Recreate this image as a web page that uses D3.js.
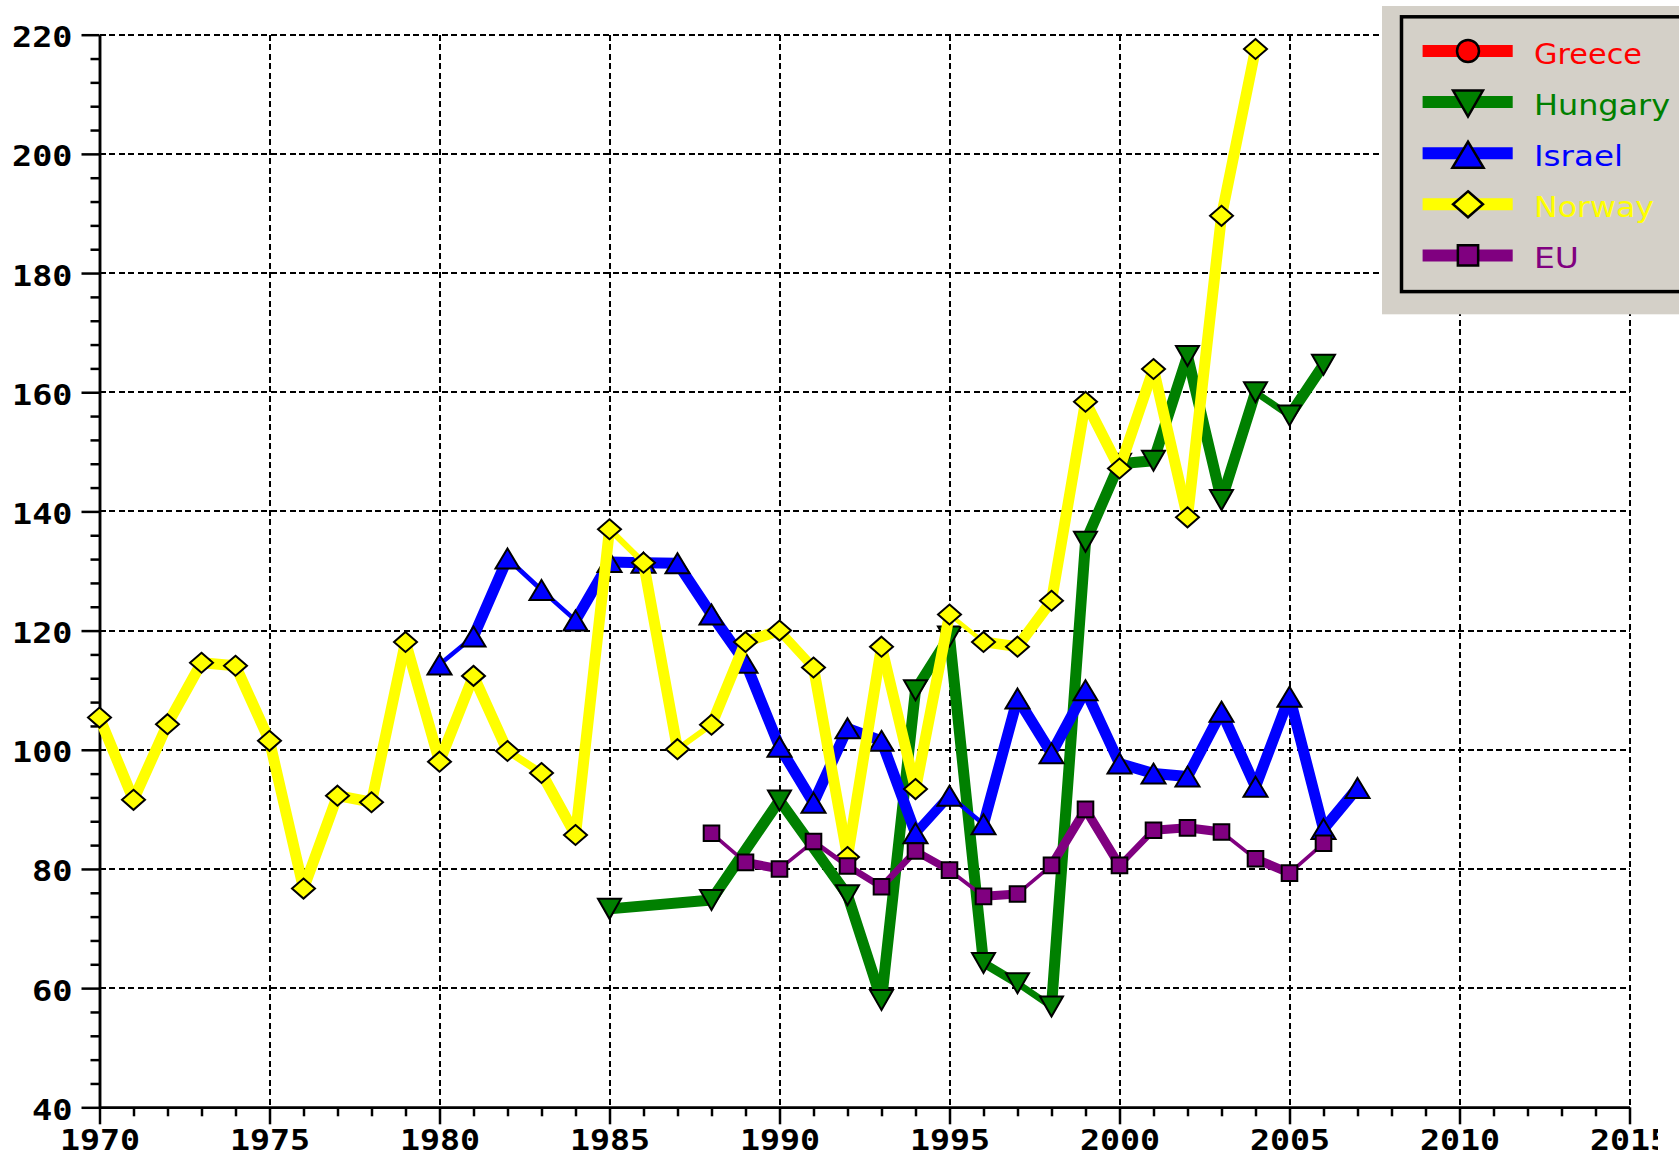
<!DOCTYPE html>
<html><head><meta charset="utf-8">
<script src="https://cdn.jsdelivr.net/npm/d3@7"></script>
<style>html,body{margin:0;padding:0;background:#fff;overflow:hidden}</style>
</head><body>
<svg id="chart" width="1679" height="1157" xmlns="http://www.w3.org/2000/svg"></svg>
<script>
// ---------------- data ----------------
const seriesNames  = ["Greece", "Hungary", "Israel", "Norway", "EU"];
const seriesColors = ["#ff0000", "#008000", "#0000ff", "#ffff00", "#800080"];
const seriesSymbols = ["circle", "triangleDown", "triangleUp", "diamond", "square"];

const greeceYears  = [];
const greeceValues = [];

const hungaryYears  = [1985, 1988, 1990, 1992, 1993, 1994, 1995, 1996, 1997, 1998, 1999, 2000, 2001, 2002, 2003, 2004, 2005, 2006];
const hungaryValues = [73.3, 74.8, 91.5, 75.6, 58.0, 110.0, 119.0, 64.2, 60.8, 56.9, 134.9, 148.0, 148.5, 166.1, 141.9, 160.0, 156.1, 164.6];

const israelYears  = [1980, 1981, 1982, 1983, 1984, 1985, 1986, 1987, 1988, 1989, 1990, 1991, 1992, 1993, 1994, 1995, 1996, 1997, 1998, 1999, 2000, 2001, 2002, 2003, 2004, 2005, 2006, 2007];
const israelValues = [114.3, 119.0, 132.1, 126.8, 121.7, 131.5, 131.4, 131.3, 122.7, 114.6, 100.5, 91.1, 103.6, 101.5, 86.0, 92.3, 87.5, 108.6, 99.4, 110.0, 97.7, 96.0, 95.5, 106.4, 93.8, 108.9, 86.7, 93.6];

const norwayYears  = [1970, 1971, 1972, 1973, 1974, 1975, 1976, 1977, 1978, 1979, 1980, 1981, 1982, 1983, 1984, 1985, 1986, 1987, 1988, 1989, 1990, 1991, 1992, 1993, 1994, 1995, 1996, 1997, 1998, 1999, 2000, 2001, 2002, 2003, 2004];
const norwayValues = [105.4, 91.6, 104.3, 114.6, 114.1, 101.5, 76.7, 92.3, 91.2, 118.1, 98.0, 112.4, 99.8, 96.1, 85.7, 137.0, 131.4, 100.1, 104.2, 118.1, 120.0, 113.8, 82.0, 117.3, 93.4, 122.7, 118.1, 117.3, 125.0, 158.4, 147.2, 163.9, 139.0, 189.6, 217.6];

const euYears  = [1988, 1989, 1990, 1991, 1992, 1993, 1994, 1995, 1996, 1997, 1998, 1999, 2000, 2001, 2002, 2003, 2004, 2005, 2006];
const euValues = [86.0, 81.1, 80.0, 84.6, 80.5, 77.0, 83.0, 79.8, 75.4, 75.8, 80.6, 90.0, 80.6, 86.5, 86.9, 86.2, 81.7, 79.3, 84.3];

const yMajorTicks = [40, 60, 80, 100, 120, 140, 160, 180, 200, 220];
const yMinorTicks = [44, 48, 52, 56, 64, 68, 72, 76, 84, 88, 92, 96, 104, 108, 112, 116, 124, 128, 132, 136, 144, 148, 152, 156, 164, 168, 172, 176, 184, 188, 192, 196, 204, 208, 212, 216];
const xMajorTicks = [1970, 1975, 1980, 1985, 1990, 1995, 2000, 2005, 2010, 2015];
const xMinorTicks = [1971, 1972, 1973, 1974, 1976, 1977, 1978, 1979, 1981, 1982, 1983, 1984, 1986, 1987, 1988, 1989, 1991, 1992, 1993, 1994, 1996, 1997, 1998, 1999, 2001, 2002, 2003, 2004, 2006, 2007, 2008, 2009, 2011, 2012, 2013, 2014];

const seriesYears  = [greeceYears, hungaryYears, israelYears, norwayYears, euYears];
const seriesValues = [greeceValues, hungaryValues, israelValues, norwayValues, euValues];

// ---------------- setup ----------------
const svg = d3.select("#chart");
svg.append("rect").attr("width", 1679).attr("height", 1157).attr("fill", "#fff");

const x = d3.scaleLinear().domain([1970, 2015]).range([99.5, 1629.5]);
const y = d3.scaleLinear().domain([40, 220]).range([1107.3, 34.7]);

const defs = svg.append("defs");
defs.append("clipPath").attr("id", "clipR").attr("clipPathUnits", "userSpaceOnUse")
  .append("rect").attr("x", 0).attr("y", -1200).attr("width", 1658).attr("height", 2400);

// ---------------- grid ----------------
const grid = svg.append("g").attr("class", "grid")
  .attr("stroke", "#000").attr("stroke-width", 2)
  .attr("stroke-dasharray", "6,3.5").attr("shape-rendering", "crispEdges");
grid.selectAll("line.h").data(yMajorTicks.filter(v => v > 40)).join("line").attr("class", "h")
  .attr("x1", x(1970)).attr("x2", x(2015)).attr("y1", d => y(d)).attr("y2", d => y(d));
grid.selectAll("line.v").data(xMajorTicks.filter(v => v > 1970)).join("line").attr("class", "v")
  .attr("x1", d => x(d)).attr("x2", d => x(d)).attr("y1", y(220)).attr("y2", y(40));

// ---------------- axes ----------------
const axisFont = "'DejaVu Sans Mono', 'Liberation Mono', monospace";
function styleAxis(g) {
  g.select(".domain").attr("stroke", "#000").attr("stroke-width", 2.5);
  g.selectAll(".tick line").attr("stroke", "#000").attr("stroke-width", 2.5);
}

const yMinorG = svg.append("g").attr("transform", `translate(${x(1970)},0)`)
  .call(d3.axisLeft(y).tickValues(yMinorTicks).tickSize(9).tickSizeOuter(0).tickFormat(""));
styleAxis(yMinorG);
const yMajorG = svg.append("g").attr("transform", `translate(${x(1970)},0)`)
  .call(d3.axisLeft(y).tickValues(yMajorTicks).tickSize(18).tickPadding(9).tickSizeOuter(0).tickFormat(d => String(d)));
styleAxis(yMajorG);
yMajorG.selectAll(".tick text")
  .attr("font-family", axisFont).attr("font-weight", "bold").attr("font-size", 28).attr("fill", "#000")
  .attr("dy", 0).attr("y", 12)
  .attr("textLength", d => String(d).length * 19.8 + 1).attr("lengthAdjust", "spacingAndGlyphs");

const xMinorG = svg.append("g").attr("transform", `translate(0,${y(40)})`)
  .call(d3.axisBottom(x).tickValues(xMinorTicks).tickSize(9).tickSizeOuter(0).tickFormat(""));
styleAxis(xMinorG);
const xMajorG = svg.append("g").attr("transform", `translate(0,${y(40)})`).attr("clip-path", "url(#clipR)")
  .call(d3.axisBottom(x).tickValues(xMajorTicks).tickSize(17).tickSizeOuter(0).tickFormat(d => String(d)));
styleAxis(xMajorG);
xMajorG.selectAll(".tick text")
  .attr("font-family", axisFont).attr("font-weight", "bold").attr("font-size", 28).attr("fill", "#000")
  .attr("dy", 0).attr("y", 42.6)
  .attr("textLength", d => String(d).length * 19.8 + 1).attr("lengthAdjust", "spacingAndGlyphs");

// ---------------- symbols ----------------
function symbolPath(type, s) {
  const p = d3.path();
  if (type === "diamond") {
    const w = 11.5 * s, h = 10 * s;
    p.moveTo(0, -h); p.lineTo(w, 0); p.lineTo(0, h); p.lineTo(-w, 0); p.closePath();
  } else if (type === "triangleUp") {
    const w = 12 * s, h = 10 * s;
    p.moveTo(0, -h); p.lineTo(w, h); p.lineTo(-w, h); p.closePath();
  } else if (type === "triangleDown") {
    const w = 11.5 * s, h = 10 * s;
    p.moveTo(-w, -h); p.lineTo(w, -h); p.lineTo(0, h); p.closePath();
  } else if (type === "square") {
    const w = 7.8 * s;
    p.rect(-w, -w, 2 * w, 2 * w);
  } else {
    const r = 10 * s;
    p.moveTo(r, 0); p.arc(0, 0, r, 0, Math.PI * 2);
  }
  return p.toString();
}

// thick-line artefact of the original renderer: ~45 degree segments look thin
function widthFactor(s) {
  if (s <= 0.5 || s >= 1.15) return 1;
  if (s < 0.78) return 1 - (s - 0.5) / 0.28 * 0.6;
  if (s <= 0.92) return 0.4;
  return 0.4 + (s - 0.92) / 0.23 * 0.6;
}

const lineGen = d3.line().x(d => x(d.year)).y(d => y(d.value));
const plot = svg.append("g").attr("class", "plot");

seriesNames.forEach((name, i) => {
  const data = seriesYears[i].map((yr, k) => ({ year: yr, value: seriesValues[i][k] }));
  const g = plot.append("g").attr("class", "series-" + name);
  const base = name === "EU" ? 9 : 11;
  const segs = d3.pairs(data);
  g.selectAll("path.seg").data(segs).join("path").attr("class", "seg")
    .attr("d", d => lineGen(d))
    .attr("fill", "none").attr("stroke", seriesColors[i])
    .attr("stroke-linecap", "round").attr("stroke-linejoin", "round")
    .attr("stroke-width", d => {
      const dx = Math.abs(x(d[1].year) - x(d[0].year));
      const dy = Math.abs(y(d[1].value) - y(d[0].value));
      return base * widthFactor(dy / dx);
    });
  g.selectAll("path.mk").data(data).join("path").attr("class", "mk")
    .attr("transform", d => `translate(${x(d.year)},${y(d.value)})`)
    .attr("d", symbolPath(seriesSymbols[i], 1))
    .attr("fill", seriesColors[i]).attr("stroke", "#000").attr("stroke-width", 2);
});

// ---------------- legend ----------------
const leg = svg.append("g").attr("class", "legend");
leg.append("rect").attr("x", 1382).attr("y", 6).attr("width", 297).attr("height", 308.3).attr("fill", "#d4d0c8");
leg.append("rect").attr("x", 1401.5).attr("y", 16.8).attr("width", 400).attr("height", 274.8)
  .attr("fill", "none").attr("stroke", "#000").attr("stroke-width", 3.5);
const legendTextLen = [108, 136, 89, 120, 45];
seriesNames.forEach((name, i) => {
  const cy = 51 + i * 51.1;
  leg.append("line").attr("x1", 1422.6).attr("x2", 1512.7).attr("y1", cy).attr("y2", cy)
    .attr("stroke", seriesColors[i]).attr("stroke-width", 12);
  leg.append("path").attr("transform", `translate(1468,${cy + (seriesSymbols[i].startsWith("triangle") ? 1.5 : 0)})`)
    .attr("d", symbolPath(seriesSymbols[i], seriesSymbols[i] === "circle" ? 1.1 : 1.3))
    .attr("fill", seriesColors[i]).attr("stroke", "#000").attr("stroke-width", 2.5);
  leg.append("text").attr("x", 1534).attr("y", cy + 12.5)
    .attr("font-family", "'DejaVu Sans', 'Liberation Sans', sans-serif").attr("font-size", 29)
    .attr("fill", seriesColors[i])
    .attr("textLength", legendTextLen[i]).attr("lengthAdjust", "spacingAndGlyphs")
    .text(name);
});
</script>
</body></html>
